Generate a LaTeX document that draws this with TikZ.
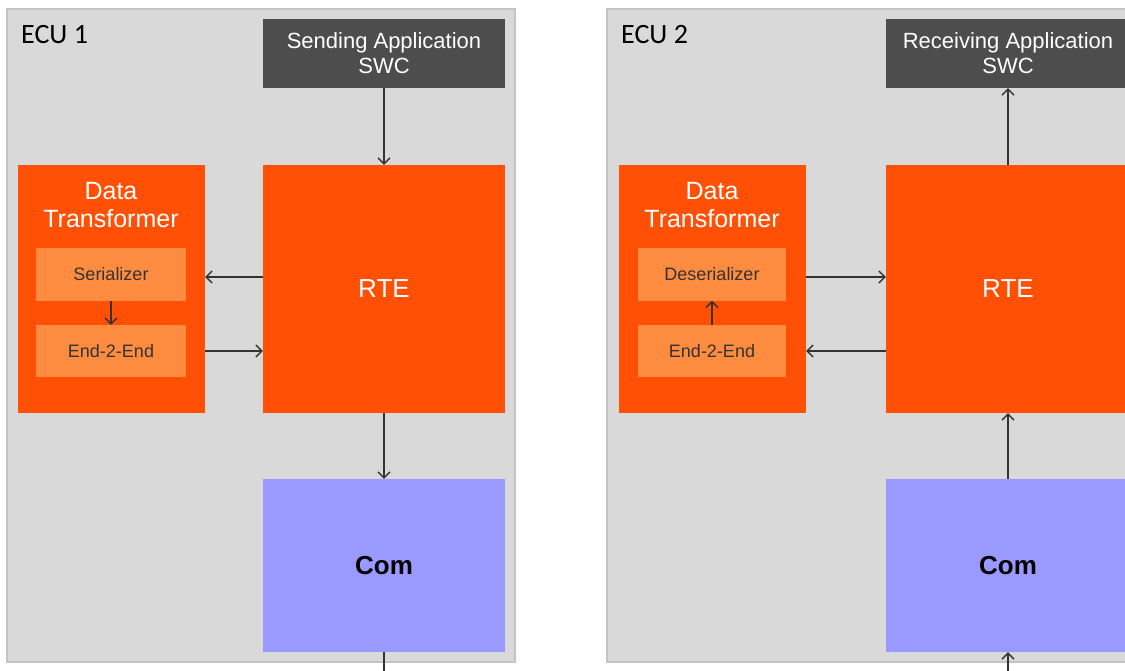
\documentclass[tikz,border=0pt]{standalone}
\usepackage{fontspec}
\setmainfont{Liberation Sans}
\newfontfamily\ecufont{Carlito}
\usetikzlibrary{arrows.meta}
\definecolor{ecubg}{HTML}{D9D9D9}
\definecolor{ecuborder}{HTML}{C4C4C4}
\definecolor{swcgray}{HTML}{4D4D4D}
\definecolor{dtorange}{HTML}{FF5005}
\definecolor{subor}{HTML}{FD8C40}
\definecolor{comblue}{HTML}{9999FF}
\definecolor{arrcol}{HTML}{333333}
\tikzset{
  ecubox/.style={fill=ecubg, draw=ecuborder, line width=1.5pt},
  swcbox/.style={fill=swcgray, text=white, inner sep=0pt, align=center,
    font=\fontsize{22}{25}\selectfont},
  dtbox/.style={fill=dtorange, inner sep=0pt},
  dttitle/.style={text=white, align=center, inner sep=0pt,
    font=\fontsize{25}{28}\selectfont},
  subbox/.style={fill=subor, text=arrcol, inner sep=0pt,
    minimum width=150pt, minimum height=52pt,
    font=\fontsize{18}{20}\selectfont},
  rtebox/.style={fill=dtorange, text=white, inner sep=0pt,
    font=\fontsize{26}{28}\selectfont},
  combox/.style={fill=comblue, text=black, inner sep=0pt,
    font=\fontsize{26}{28}\selectfont\bfseries},
  ecutext/.style={anchor=west, inner sep=0pt, text=black,
    font=\ecufont\fontsize{28}{30}\selectfont},
  arr/.style={draw=arrcol, line width=1.3pt,
    -{Straight Barb[length=6pt,width=12pt,line width=1.3pt]}},
  plainline/.style={draw=arrcol, line width=1.3pt}
}
\begin{document}
\begin{tikzpicture}[x=1pt,y=-1pt]
\clip (0,0) rectangle (1125,671);
\fill[white] (0,0) rectangle (1125,671);
% ECU backgrounds
\draw[ecubox] (7,9) rectangle (515,662);
\draw[ecubox] (607,9) rectangle (1145,662);
\node[ecutext] (ecu1) at (21,35) {ECU 1};
\node[ecutext] (ecu2) at (621,35) {ECU 2};

% ECU 1
\node[swcbox, minimum width=242pt, minimum height=69pt] (swc1) at (384,53.5) {Sending Application\\SWC};
\node[dtbox, minimum width=187pt, minimum height=248pt] (dt1) at (111.5,289) {};
\node[dttitle] (dt1t) at (111,205) {Data\\Transformer};
\node[subbox] (ser1) at (111,274.5) {Serializer};
\node[subbox] (e2e1) at (111,351) {End-2-End};
\node[rtebox, minimum width=242pt, minimum height=248pt] (rte1) at (384,289) {\raisebox{-3pt}{RTE}};
\node[combox, minimum width=242pt, minimum height=173pt] (com1) at (384,565.5) {Com};
\coordinate (out1) at (384,680);

\draw[arr] (swc1.south) -- (rte1.north);
\draw[arr] (rte1.south) -- (com1.north);
\draw[plainline] (com1.south) -- (out1);
\draw[arr] (rte1.west |- 0,277) -- (dt1.east |- 0,277);
\draw[arr] (dt1.east |- e2e1) -- (rte1.west |- e2e1);
\draw[arr] (ser1.south) -- (e2e1.north);

% ECU 2
\node[swcbox, minimum width=244pt, minimum height=69pt] (swc2) at (1008,53.5) {Receiving Application\\SWC};
\node[dtbox, minimum width=187pt, minimum height=248pt] (dt2) at (712.5,289) {};
\node[dttitle] (dt2t) at (712,205) {Data\\Transformer};
\node[subbox, minimum width=148pt] (des2) at (712,274.5) {Deserializer};
\node[subbox, minimum width=148pt] (e2e2) at (712,351) {End-2-End};
\node[rtebox, minimum width=244pt, minimum height=248pt] (rte2) at (1008,289) {\raisebox{-3pt}{RTE}};
\node[combox, minimum width=244pt, minimum height=173pt] (com2) at (1008,565.5) {Com};
\coordinate (in2) at (1008,680);

\draw[arr] (rte2.north) -- (swc2.south);
\draw[arr] (com2.north) -- (rte2.south);
\draw[arr] (in2) -- (com2.south);
\draw[arr] (dt2.east |- 0,277) -- (rte2.west |- 0,277);
\draw[arr] (rte2.west |- e2e2) -- (dt2.east |- e2e2);
\draw[arr] (e2e2.north) -- (des2.south);
\end{tikzpicture}
\end{document}
